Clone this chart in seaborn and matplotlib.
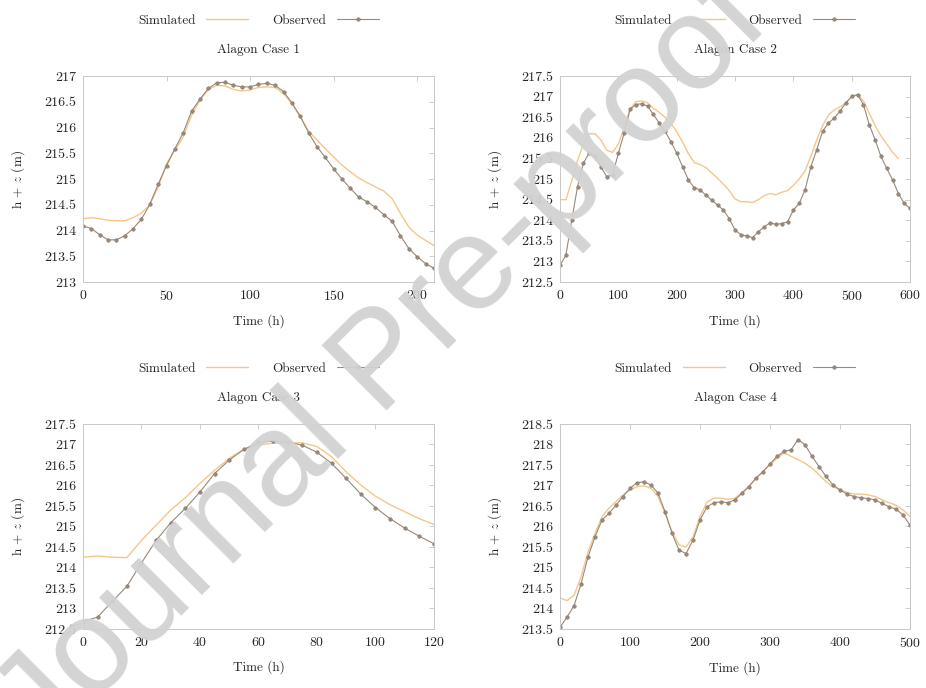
import numpy as np
import pandas as pd
import matplotlib
matplotlib.use("Agg")
import matplotlib.pyplot as plt
from matplotlib.ticker import MultipleLocator, FuncFormatter
import seaborn as sns

# ---- Alagon Case 1 ----
c1_time = list(range(0, 211, 5))
c1_obs = [214.09, 214.04, 213.92, 213.82, 213.82, 213.90, 214.04, 214.22, 214.51, 214.90,
          215.26, 215.59, 215.90, 216.32, 216.55, 216.76, 216.87, 216.88, 216.82, 216.79,
          216.79, 216.84, 216.86, 216.82, 216.70, 216.48, 216.22, 215.90, 215.63, 215.42,
          215.20, 215.00, 214.82, 214.65, 214.56, 214.45, 214.31, 214.18, 213.90, 213.65,
          213.49, 213.36, 213.27]
c1_sim = [214.23, 214.25, 214.23, 214.20, 214.19, 214.19, 214.25, 214.34, 214.50, 214.85,
          215.30, 215.56, 215.82, 216.24, 216.53, 216.74, 216.82, 216.81, 216.74, 216.71,
          216.73, 216.78, 216.79, 216.78, 216.66, 216.47, 216.21, 215.93, 215.76, 215.59,
          215.43, 215.27, 215.14, 215.02, 214.93, 214.85, 214.77, 214.62, 214.33, 214.07,
          213.91, 213.81, 213.71]

# ---- Alagon Case 2 ----
c2_time = list(range(0, 601, 10))
c2_obs = [212.91, 213.15, 214.00, 214.82, 215.39, 215.63, 215.55, 215.30, 215.06, 215.10,
          215.63, 216.12, 216.69, 216.81, 216.83, 216.77, 216.57, 216.36, 216.16, 215.91,
          215.63, 215.30, 214.98, 214.79, 214.74, 214.61, 214.49, 214.37, 214.25, 214.04,
          213.76, 213.65, 213.62, 213.58, 213.72, 213.84, 213.94, 213.90, 213.92, 213.96,
          214.25, 214.41, 214.74, 215.30, 215.71, 216.16, 216.36, 216.48, 216.65, 216.85,
          217.01, 217.05, 216.81, 216.32, 215.96, 215.55, 215.26, 214.98, 214.65, 214.41,
          214.29]
c2_sim_time = list(range(0, 581, 10))
c2_sim = [214.50, 214.50, 214.95, 215.45, 215.85, 216.10, 216.10, 215.95, 215.70, 215.65,
          215.85, 216.25, 216.70, 216.88, 216.90, 216.85, 216.72, 216.62, 216.50, 216.35,
          216.15, 215.90, 215.62, 215.40, 215.35, 215.28, 215.15, 215.02, 214.88, 214.72,
          214.52, 214.45, 214.45, 214.43, 214.50, 214.60, 214.65, 214.62, 214.68, 214.72,
          214.85, 215.00, 215.20, 215.55, 215.95, 216.30, 216.55, 216.68, 216.75, 216.85,
          217.00, 217.05, 216.90, 216.60, 216.30, 216.05, 215.85, 215.65, 215.50]

# ---- Alagon Case 3 ----
c3_time = list(range(0, 121, 5))
c3_obs = [212.68, 212.79, 213.17, 213.54, 214.11, 214.66, 215.09, 215.44, 215.84, 216.29,
          216.62, 216.88, 217.05, 217.08, 217.06, 216.98, 216.81, 216.54, 216.17, 215.79,
          215.46, 215.19, 214.96, 214.76, 214.58]
c3_sim = [214.25, 214.28, 214.25, 214.24, 214.66, 215.03, 215.40, 215.70, 216.05, 216.37,
          216.66, 216.88, 216.99, 217.03, 217.04, 217.04, 216.95, 216.70, 216.33, 216.01,
          215.74, 215.53, 215.36, 215.19, 215.05]

# ---- Alagon Case 4 ----
c4_time = list(range(0, 501, 10))
c4_obs = [213.54, 213.79, 214.07, 214.60, 215.26, 215.75, 216.16, 216.32, 216.52, 216.73,
          216.93, 217.07, 217.09, 217.01, 216.81, 216.36, 215.83, 215.42, 215.34, 215.67,
          216.16, 216.48, 216.58, 216.60, 216.58, 216.65, 216.81, 216.97, 217.18, 217.34,
          217.53, 217.71, 217.83, 217.87, 218.12, 217.99, 217.71, 217.46, 217.22, 217.01,
          216.89, 216.79, 216.73, 216.70, 216.68, 216.65, 216.56, 216.48, 216.42, 216.28,
          216.03]
c4_sim = [214.26, 214.19, 214.32, 214.77, 215.38, 215.83, 216.24, 216.45, 216.61, 216.77,
          216.89, 216.97, 216.99, 216.93, 216.73, 216.32, 215.87, 215.55, 215.50, 215.75,
          216.24, 216.60, 216.69, 216.69, 216.66, 216.69, 216.83, 216.99, 217.18, 217.34,
          217.50, 217.67, 217.79, 217.71, 217.63, 217.54, 217.42, 217.26, 217.09, 216.97,
          216.89, 216.83, 216.79, 216.79, 216.77, 216.73, 216.65, 216.58, 216.52, 216.40,
          216.24]

titles = ["Alagon Case 1", "Alagon Case 2", "Alagon Case 3", "Alagon Case 4"]

sns.set_style("white")
plt.rcParams['font.family'] = ['cmr10', 'DejaVu Serif']
plt.rcParams['mathtext.fontset'] = 'cm'
plt.rcParams['axes.formatter.use_mathtext'] = True
plt.rcParams['font.size'] = 9.5

SIM_COLOR = '#f5c68a'
OBS_COLOR = '#9a8878'

cases = [
    (c1_time, c1_sim, c1_time, c1_obs, (0, 210), 50, (213, 217)),
    (c2_sim_time, c2_sim, c2_time, c2_obs, (0, 600), 100, (212.5, 217.5)),
    (c3_time, c3_sim, c3_time, c3_obs, (0, 120), 20, (212.5, 217.5)),
    (c4_time, c4_sim, c4_time, c4_obs, (0, 500), 100, (213.5, 218.5)),
]

fig = plt.figure(figsize=(9.26, 6.88), dpi=100)
positions = [
    [0.0896, 0.590, 0.379, 0.2994],
    [0.6048, 0.590, 0.378, 0.2994],
    [0.0896, 0.0858, 0.379, 0.298],
    [0.6048, 0.0858, 0.378, 0.298],
]

for i, (st, sv, ot, ov, xl, xstep, yl) in enumerate(cases):
    ax = fig.add_axes(positions[i])
    sim_df = pd.DataFrame({'time': st, 'h': sv})
    obs_df = pd.DataFrame({'time': ot, 'h': ov})
    sns.lineplot(data=sim_df, x='time', y='h', ax=ax, color=SIM_COLOR, lw=1.0,
                 label='Simulated')
    sns.lineplot(data=obs_df, x='time', y='h', ax=ax, color=OBS_COLOR, lw=0.8,
                 marker='o', markersize=2.6, markeredgewidth=0.3,
                 markeredgecolor='#7d6b5c', label='Observed')
    ax.set_xlim(*xl)
    ax.set_ylim(*yl)
    ax.xaxis.set_major_locator(MultipleLocator(xstep))
    ax.yaxis.set_major_locator(MultipleLocator(0.5))
    ax.yaxis.set_major_formatter(FuncFormatter(lambda v, p: '%g' % v))
    ax.tick_params(direction='in', top=True, right=True, length=3.5, width=0.6,
                   color='#c4c4c4', labelsize=10, pad=5)
    for s in ax.spines.values():
        s.set_color('#c8c8c8')
        s.set_linewidth(0.7)
    ax.set_xlabel('Time (h)', fontsize=9.5, labelpad=8)
    ax.set_ylabel('h + $z$ (m)', fontsize=9.5, labelpad=12)
    ax.text(0.5, 1.125, titles[i], transform=ax.transAxes, ha='center', va='center',
            fontsize=9.5)
    ax.legend(loc='center', bbox_to_anchor=(0.5, 1.27), ncol=2, frameon=False,
              markerfirst=False, fontsize=9.5, handlelength=3.2, columnspacing=1.8,
              handletextpad=0.8)

# pre-proof watermark
fig.text(0.415, 0.47, 'Journal Pre-proof', fontsize=96, color='#d2d2d2',
         family='Liberation Sans', rotation=45,
         ha='center', va='center', zorder=10, alpha=0.95)

fig.savefig('out.png', dpi=100)
